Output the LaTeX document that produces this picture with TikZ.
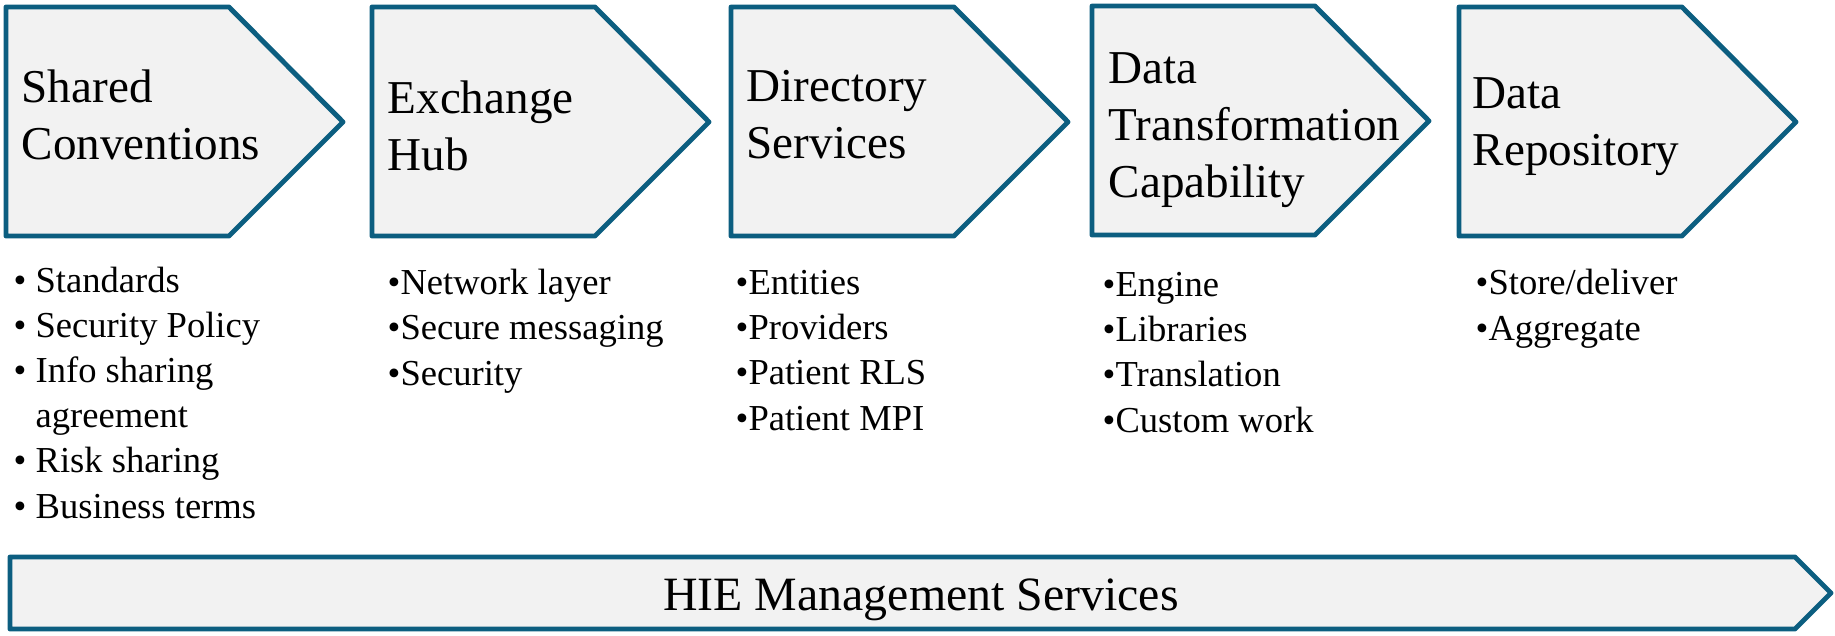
\documentclass[tikz,border=0pt]{standalone}
\usepackage{fontspec}
\setmainfont{Liberation Serif}
\definecolor{hieblue}{RGB}{12,94,128}
\definecolor{hiegrey}{RGB}{242,242,242}
\tikzset{
  chev/.style={draw=hieblue, fill=hiegrey, line width=1.4pt, line join=round},
  title/.style={anchor=base west, inner sep=0pt, align=left, font=\fontsize{13.4pt}{16.2pt}\selectfont},
  items/.style={anchor=base west, inner sep=0pt, align=left, font=\fontsize{10.4pt}{12.8pt}\selectfont}
}
\begin{document}
\begin{tikzpicture}[x=0.01cm, y=-0.01cm]
   \useasboundingbox (0,0) rectangle (1835,636);
   % the five steps
   \draw [chev] (6,7)--++(223,0)--++(114,115)--++(-114,114)--++(-223,0)--cycle;
   \draw [chev] (372,7)--++(223,0)--++(114,115)--++(-114,114)--++(-223,0)--cycle;
   \draw [chev] (731,7)--++(223,0)--++(114,115)--++(-114,114)--++(-223,0)--cycle;
   \draw [chev] (1092,6)--++(223,0)--++(114,115)--++(-114,114)--++(-223,0)--cycle;
   \draw [chev] (1459,7)--++(223,0)--++(114,115)--++(-114,114)--++(-223,0)--cycle;
   % (base = last line)
   \node [title] (conv) at (21,159) {Shared\\Conventions};
   \node [title] (hub) at (387,170) {Exchange\\Hub};
   \node [title] (dir) at (746,158) {Directory\\Services};
   \node [title] (trans) at (1108,197) {Data\\Transformation\\Capability};
   \node [title] (repo) at (1472,165) {Data\\Repository};
   % what each step holds
   \node [items] (convlist) at (13,518) {\textbullet~Standards\\\textbullet~Security Policy\\\textbullet~Info sharing\\\phantom{\textbullet~}agreement\\\textbullet~Risk sharing\\\textbullet~Business terms};
   \node [items] (hublist) at (387,385) {\textbullet Network layer\\\textbullet Secure messaging\\\textbullet Security};
   \node [items] (dirlist) at (735,430) {\textbullet Entities\\\textbullet Providers\\\textbullet Patient RLS\\\textbullet Patient MPI};
   \node [items] (translist) at (1102,432) {\textbullet Engine\\\textbullet Libraries\\\textbullet Translation\\\textbullet Custom work};
   \node [items] (repolist) at (1475,340) {\textbullet Store/deliver\\\textbullet Aggregate};
   % bar under all steps
   \draw [chev] (10,557)--(1795,557)--(1831,593)--(1795,629)--(10,629)--cycle;
   \node [anchor=base, inner sep=0pt, font=\fontsize{13.6pt}{16pt}\selectfont] (mgmt) at (921,610) {HIE Management Services};
\end{tikzpicture}
\end{document}
